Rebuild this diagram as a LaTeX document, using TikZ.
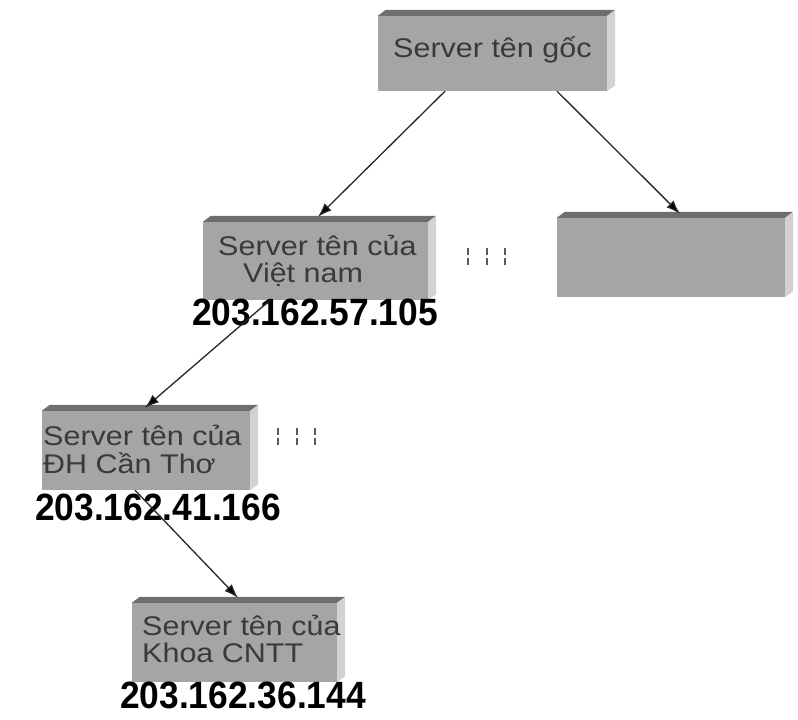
\documentclass[tikz,border=0pt]{standalone}
\usepackage{fontspec}
\usepackage{graphicx}
\usetikzlibrary{arrows.meta,calc}
\newfontfamily\arialfont{Liberation Sans}

\definecolor{faceGray}{HTML}{A5A5A5}
\definecolor{topGray}{HTML}{6E6E6E}
\definecolor{sideGray}{HTML}{D2D2D2}
\definecolor{boxText}{HTML}{3A3A3A}
\definecolor{dotGray}{HTML}{5A5A5A}

% horizontally widened text for the box captions
\newcommand\widetxt[1]{\scalebox{1.13}[1]{#1}}
% slightly narrowed bold text for the addresses
\newcommand\ipaddr[1]{\scalebox{0.93}[1]{#1}}

\tikzset{
  face/.style={rectangle, fill=faceGray, draw=none, inner sep=0pt,
    minimum width=#1},
  caption/.style={anchor=base west, inner sep=0pt, text=boxText,
    font=\fontsize{27}{27}\selectfont\arialfont},
  address/.style={anchor=base west, inner sep=0pt, text=black,
    font=\fontsize{38}{38}\selectfont\arialfont\bfseries},
  conn/.style={draw=black!85, line width=1.3pt,
    -{Latex[length=14pt,width=10pt,fill=black]}},
  dotmark/.style={draw=dotGray, line width=2.2pt},
}

% draw the bevelled top and right side of a box node
\newcommand\bevel[1]{%
  \fill[topGray] (#1.north west) -- ++(8,-6) -- ($(#1.north east)+(8,-6)$)
    -- (#1.north east) -- cycle;
  \fill[sideGray] (#1.north east) -- ++(8,-6) -- ($(#1.south east)+(8,-6)$)
    -- (#1.south east) -- cycle;
}

\begin{document}
\begin{tikzpicture}[x=1pt, y=-1pt]
  \useasboundingbox (0,0) rectangle (798,720);

  % boxes (front faces)
  \node[face=229pt, minimum height=75pt] (root)  at (492.5,53.5) {};
  \node[face=225pt, minimum height=78pt] (vn)    at (315.5,261)  {};
  \node[face=228pt, minimum height=79pt] (other) at (671,257.5)  {};
  \node[face=208pt, minimum height=79pt] (dh)    at (146,450.5)  {};
  \node[face=205pt, minimum height=79pt] (khoa)  at (234.5,642.5) {};

  \bevel{root}
  \bevel{vn}
  \bevel{other}
  \bevel{dh}
  \bevel{khoa}

  % captions
  \node[caption] (rootT)  at (393,57)  {\widetxt{Server tên gốc}};
  \node[caption] (vnT1)   at (218,255) {\widetxt{Server tên của}};
  \node[caption] (vnT2)   at (243,282) {\widetxt{Việt nam}};
  \node[caption] (dhT1)   at (43,445)  {\widetxt{Server tên của}};
  \node[caption] (dhT2)   at (43,473)  {\widetxt{ĐH Cần Thơ}};
  \node[caption] (khoaT1) at (142,635) {\widetxt{Server tên của}};
  \node[caption] (khoaT2) at (142,662) {\widetxt{Khoa CNTT}};

  % addresses
  \node[address] (vnIP)   at (192,325) {\ipaddr{203.162.57.105}};
  \node[address] (dhIP)   at (35,520)  {\ipaddr{203.162.41.166}};
  \node[address] (khoaIP) at (120,708) {\ipaddr{203.162.36.144}};

  % ellipsis marks beside the siblings
  \foreach \x in {468,487,505} {
    \draw[dotmark] (\x,248) -- (\x,255);
    \draw[dotmark] (\x,258) -- (\x,265);
  }
  \foreach \x in {278,297,315} {
    \draw[dotmark] (\x,428) -- (\x,435);
    \draw[dotmark] (\x,438) -- (\x,445);
  }

  % hierarchy links
  \draw[conn] ([xshift=-47.5pt]root.south) -- ([xshift=2.5pt,yshift=5pt]vn.north);
  \draw[conn] ([xshift=64.5pt]root.south) -- ([xshift=9pt,yshift=4pt]other.north);
  \draw[conn] ([xshift=-45.5pt]vn.south) -- ([xshift=-1pt,yshift=3pt]dh.north);
  \draw[conn] ([xshift=-11pt]dh.south) -- ([xshift=3.5pt,yshift=5pt]khoa.north);
\end{tikzpicture}
\end{document}
